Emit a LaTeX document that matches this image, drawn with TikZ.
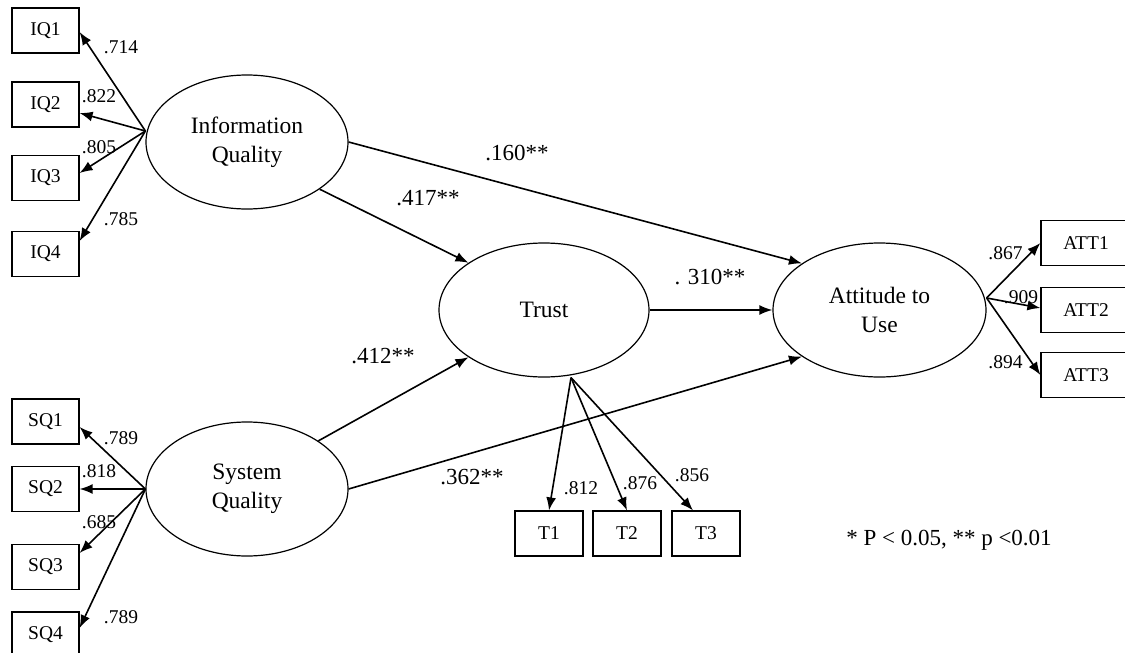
\documentclass[tikz,border=0pt]{standalone}
\usepackage{fontspec}
\setmainfont{Liberation Serif}
\usetikzlibrary{arrows.meta,shapes.geometric}
\begin{document}
\begin{tikzpicture}[x=1pt,y=-1pt,
  ind/.style={draw,line width=1.2pt,minimum width=67pt,minimum height=45pt,inner sep=0pt,
              font=\fontsize{19.5}{23}\selectfont},
  wide/.style={ind,minimum width=90pt},
  lat/.style={draw,ellipse,line width=1.2pt,minimum width=202pt,minimum height=134pt,
              inner sep=0pt,align=center,font=\fontsize{23.5}{29}\selectfont},
  link/.style={line width=1.6pt,-{Latex[length=13pt,width=10pt]}},
  load/.style={font=\fontsize{19.5}{23}\selectfont,inner sep=0pt},
  coef/.style={font=\fontsize{23}{27}\selectfont,inner sep=0pt}]
\useasboundingbox (0,0) rectangle (1125,653);
\clip (0,0) rectangle (1125,653);

% latent constructs
\node[lat] (IQ) at (247,142) {Information\\Quality};
\node[lat] (SQ) at (247,489) {System\\Quality};
\node[lat,minimum width=210pt] (Trust) at (544,310) {Trust};
\node[lat,minimum width=213pt] (Att) at (879.5,310) {Attitude to\\Use};

% indicators
\node[ind] (IQ1) at (45.5,30.5) {IQ1};
\node[ind] (IQ2) at (45.5,104.5) {IQ2};
\node[ind] (IQ3) at (45.5,178) {IQ3};
\node[ind] (IQ4) at (45.5,254) {IQ4};
\node[ind] (SQ1) at (45.5,421.5) {SQ1};
\node[ind] (SQ2) at (45.5,489) {SQ2};
\node[ind] (SQ3) at (45.5,567) {SQ3};
\node[ind] (SQ4) at (45.5,634.5) {SQ4};
\node[ind,minimum width=68pt] (T1) at (549,533.5) {T1};
\node[ind,minimum width=68pt] (T2) at (627,533.5) {T2};
\node[ind,minimum width=68pt] (T3) at (706,533.5) {T3};
\node[wide] (ATT1) at (1086,243) {ATT1};
\node[wide] (ATT2) at (1086,310) {ATT2};
\node[wide] (ATT3) at (1086,375) {ATT3};

% hubs where the loading arrows leave each construct
\coordinate (iqhub) at ([yshift=11pt]IQ.west);
\coordinate (sqhub) at (SQ.west);
\coordinate (thub) at ([xshift=27pt]Trust.south);
\coordinate (athub) at ([yshift=12pt]Att.east);

% loadings
\draw[link] (iqhub) -- ([yshift=-1.5pt]IQ1.east);
\draw[link] (iqhub) -- ([yshift=-8.5pt]IQ2.east);
\draw[link] (iqhub) -- ([yshift=5pt]IQ3.east);
\draw[link] (iqhub) -- ([yshift=13pt]IQ4.east);
\draw[link] (sqhub) -- ([yshift=-5.5pt]SQ1.east);
\draw[link] (sqhub) -- (SQ2.east);
\draw[link] (sqhub) -- ([yshift=14pt]SQ3.east);
\draw[link] (sqhub) -- ([yshift=6.5pt]SQ4.east);
\draw[link] (thub) -- (T1.north);
\draw[link] (thub) -- (T2.north);
\draw[link] (thub) -- ([xshift=-13pt]T3.north);
\draw[link] (athub) -- (ATT1.west);
\draw[link] (athub) -- ([yshift=2pt]ATT2.west);
\draw[link] (athub) -- (ATT3.west);

% structural paths
\draw[link] (IQ.-33.5) -- (Trust.148);
\draw[link] (IQ.east) -- (Att.149);
\draw[link] (SQ.34) -- (Trust.212);
\draw[link] (SQ.east) -- (Att.211.5);
\draw[link] (Trust.east) -- (Att.west);

% loading values
\node[load] (l1) at (121,47) {.714};
\node[load] (l2) at (99,96) {.822};
\node[load] (l3) at (99,147) {.805};
\node[load] (l4) at (121,219) {.785};
\node[load] (l5) at (121,438) {.789};
\node[load] (l6) at (99,471) {.818};
\node[load] (l7) at (99,522) {.685};
\node[load] (l8) at (121,617) {.789};
\node[load] (l9) at (581,488) {.812};
\node[load] (l10) at (640,483) {.876};
\node[load] (l11) at (692,475) {.856};
\node[load] (l12) at (1005.5,253) {.867};
\node[load] (l13) at (1021,297) {.909};
\node[load] (l14) at (1005.5,362) {.894};

% path coefficients
\node[coef] (c1) at (517,153) {.160**};
\node[coef] (c2) at (428,198) {.417**};
\node[coef] (c3) at (383,356) {.412**};
\node[coef] (c4) at (472,477) {.362**};
\node[coef] (c5) at (710,277) {. 310**};

\node[coef] (note) at (949,540) {* P < 0.05, ** p <0.01};
\end{tikzpicture}
\end{document}
